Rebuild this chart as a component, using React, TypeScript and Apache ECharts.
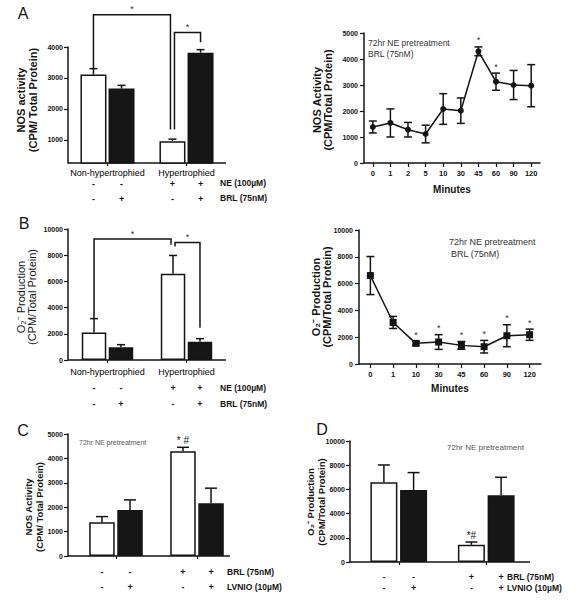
import React, { useEffect, useRef } from 'react';
import * as echarts from 'echarts';

const FONT = '"Liberation Sans", Arial, Helvetica, sans-serif';
const INK = '#141414';

// ---------------- data ----------------
// Panel A (left): NOS activity, bar chart
const groupsAB = ['Non-hypertrophied', 'Hypertrophied'];
const aNosWhite = [3110, 955];
const aNosWhiteErr = [190, 65];
const aNosBlack = [2660, 3815];
const aNosBlackErr = [100, 100];
const aSignsNE = ['-', '-', '+', '+'];
const aSignsBRL = ['-', '+', '-', '+'];
// brackets: [fromCat, fromSide, toCat, toSide, level, fromEnd, toEnd]
const aBrackets = [
  [0, -1, 1, -1, 5045, 3300, 1333],
  [1, -1, 1, 1, 4470, 1333, 4150],
];

// Panel A (right): NOS activity time course
const aMinutes = ['0', '1', '2', '5', '10', '30', '45', '60', '90', '120'];
const aNosTime = [1385, 1540, 1280, 1115, 2077, 2013, 4295, 3128, 3000, 2974];
const aNosTimeErr = [230, 540, 280, 340, 590, 490, 170, 330, 560, 810];
const aNosTimeSig = ['', '', '', '', '', '', '*', '*', '', ''];

// Panel B (left): O2- production, bar chart
const bO2White = [2090, 6580];
const bO2WhiteErr = [1070, 1400];
const bO2Black = [970, 1400];
const bO2BlackErr = [200, 230];
const bBrackets = [
  [0, -1, 1, -1, 9235, 3163, 8800],
  [1, -1, 1, 1, 8975, 8670, 2470],
];

// Panel B (right): O2- production time course
const bMinutes = ['0', '1', '10', '30', '45', '60', '90', '120'];
const bO2Time = [6600, 3100, 1540, 1640, 1390, 1290, 2110, 2185];
const bO2TimeErr = [1420, 450, 150, 550, 290, 470, 820, 420];
const bO2TimeSig = ['', '', '*', '*', '*', '*', '*', '*'];

// Panel C: NOS activity with LVNIO
const cdGroups = ['Vehicle', 'BRL (75nM)'];
const cNosWhite = [1385, 4290];
const cNosWhiteErr = [230, 165];
const cNosBlack = [1890, 2165];
const cNosBlackErr = [410, 615];
const cWhiteSig = ['', '* #'];
const cdSignsBRL = ['-', '-', '+', '+'];
const cdSignsLVNIO = ['-', '+', '-', '+'];

// Panel D: O2- production with LVNIO
const dO2White = [6590, 1420];
const dO2WhiteErr = [1430, 230];
const dO2Black = [5960, 5520];
const dO2BlackErr = [1430, 1480];
const dWhiteSig = ['', '*#'];

// ---------------- helpers ----------------
const txt = (
  text: string, x: number, y: number, size: number, weight: string,
  fill: string, align: string, valign: string, rotation = 0,
) => ({
  type: 'text', x, y, rotation, silent: true,
  style: {
    text, fill, fontSize: size, fontWeight: weight, fontFamily: FONT,
    align, verticalAlign: valign, textAlign: align, textVerticalAlign: valign,
  },
});
const seg = (x1: number, y1: number, x2: number, y2: number, w = 1.5) => ({
  type: 'line', shape: { x1, y1, x2, y2 }, style: { stroke: INK, lineWidth: w },
});

function buildOption() {
  const grid: any[] = [];
  const xAxis: any[] = [];
  const yAxis: any[] = [];
  const series: any[] = [];
  const graphic: any[] = [];

  const valueAxis = (gi: number, min: number, max: number, interval: number | null,
    ticks: number[] | null, offset: number, margin: number) => ({
    type: 'value', gridIndex: gi, min, max, offset,
    ...(interval ? { interval } : {}),
    axisLine: { show: true, lineStyle: { color: INK, width: 1.5 } },
    axisTick: {
      show: true, length: 4, lineStyle: { color: INK, width: 1.2 },
      ...(ticks ? { customValues: ticks } : {}),
    },
    axisLabel: {
      color: INK, fontSize: 7, fontWeight: 'bold', fontFamily: FONT, margin,
      formatter: (v: number) => String(v),
      ...(ticks ? { customValues: ticks } : {}),
    },
    splitLine: { show: false },
  });

  const addBarPanel = (p: any) => {
    const gi = grid.length;
    grid.push({ left: p.left, top: p.top, width: p.width, height: p.height, containLabel: false, outerBoundsMode: 'none' });
    xAxis.push({
      type: 'category', gridIndex: gi, data: p.cats, boundaryGap: true,
      axisLine: { show: false },
      axisTick: { show: true, alignWithLabel: true, length: 3, lineStyle: { color: INK, width: 1.2 } },
      axisLabel: { show: p.showCats, color: '#000', fontSize: 9, fontFamily: FONT, margin: p.catMargin, interval: 0 },
    });
    yAxis.push(valueAxis(gi, p.yMin, p.yMax, p.yInterval, p.yTicks, p.left - p.axisX0, 5));
    const bottom = p.top + p.height;
    graphic.push(seg(p.axisX0, bottom, p.axisX1, bottom));
    const n = p.cats.length;
    const half = (p.bw * (1 + p.gap)) / 2;
    series.push({
      type: 'bar', xAxisIndex: gi, yAxisIndex: gi, data: p.white, barWidth: p.bw,
      barGap: Math.round(p.gap * 100) + '%', z: 2,
      itemStyle: { color: '#ffffff', borderColor: INK, borderWidth: 1.5 },
    });
    series.push({
      type: 'bar', xAxisIndex: gi, yAxisIndex: gi, data: p.black, barWidth: p.bw, z: 2,
      itemStyle: { color: '#161616', borderColor: INK, borderWidth: 1.5 },
    });
    const errData = [
      ...p.white.map((v: number, i: number) => [i, v, p.whiteErr[i]]),
      ...p.black.map((v: number, i: number) => [i, v, p.blackErr[i]]),
    ];
    const labels = [...p.whiteLabels, ...p.cats.map(() => '')];
    series.push({
      type: 'custom', xAxisIndex: gi, yAxisIndex: gi, clip: false, silent: true, z: 5,
      itemStyle: { color: INK },
      data: errData, encode: { x: 0, y: 1 },
      renderItem: (params: any, api: any) => {
        const di = params.dataIndex;
        const side = di < n ? 0 : 1;
        const cat = api.value(0);
        const mean = api.value(1);
        const err = api.value(2);
        const b = api.coord([cat, mean]);
        const t = api.coord([cat, mean + err]);
        const base = api.coord([cat, p.yMin]);
        const x = b[0] + (side === 0 ? -half : half);
        const ch: any[] = [
          seg(x, b[1], x, t[1]),
          seg(x - p.cap / 2, t[1], x + p.cap / 2, t[1]),
        ];
        if (labels[di]) ch.push(txt(labels[di], x, t[1] - 2, 10, 'normal', INK, 'center', 'bottom'));
        const si = cat * 2 + side;
        ch.push(txt(p.signs1[si], x, base[1] + p.signRows[0], 9, 'bold', INK, 'center', 'middle'));
        ch.push(txt(p.signs2[si], x, base[1] + p.signRows[1], 9, 'bold', INK, 'center', 'middle'));
        return { type: 'group', children: ch };
      },
    });
    if (p.brackets) {
      const brs = p.brackets;
      series.push({
        type: 'custom', xAxisIndex: gi, yAxisIndex: gi, clip: false, silent: true, z: 5,
        itemStyle: { color: INK },
        data: brs, encode: { x: 0, y: 4 },
        renderItem: (params: any, api: any) => {
          const k = params.dataIndex;
          const br = brs[k];
          const xOf = (cat: number, side: number) => api.coord([cat, p.yMin])[0] + side * half;
          let x1 = xOf(br[0], br[1]);
          let x2 = xOf(br[2], br[3]);
          brs.forEach((o: number[], j: number) => {
            if (j === k) return;
            if (o[0] === br[2] && o[1] === br[3]) x2 -= 2;
            if (o[2] === br[0] && o[3] === br[1]) x1 += 2;
          });
          const yL = api.coord([0, br[4]])[1];
          const y1 = api.coord([0, br[5]])[1];
          const y2 = api.coord([0, br[6]])[1];
          return {
            type: 'group',
            children: [
              { type: 'polyline', shape: { points: [[x1, y1], [x1, yL], [x2, yL], [x2, y2]] }, style: { stroke: INK, lineWidth: 1.5, fill: null } },
              txt('*', (x1 + x2) / 2, yL - 1, 9, 'normal', '#333', 'center', 'bottom'),
            ],
          };
        },
      });
    }
  };

  const addLinePanel = (p: any) => {
    const gi = grid.length;
    grid.push({ left: p.left, top: p.top, width: p.width, height: p.height, containLabel: false, outerBoundsMode: 'none' });
    xAxis.push({
      type: 'category', gridIndex: gi, data: p.cats, boundaryGap: true,
      axisLine: { show: true, lineStyle: { color: INK, width: 1.5 } },
      axisTick: { show: true, alignWithLabel: true, length: 4, lineStyle: { color: INK, width: 1.2 } },
      axisLabel: { color: INK, fontSize: 7.5, fontWeight: 'bold', fontFamily: FONT, margin: 6, interval: 0 },
      name: 'Minutes', nameLocation: 'middle', nameGap: p.nameGap,
      nameTextStyle: { color: INK, fontSize: 10, fontWeight: 'bold', fontFamily: FONT },
    });
    yAxis.push(valueAxis(gi, p.yMin, p.yMax, p.yInterval, null, 0, 6));
    const errData = p.values.map((v: number, i: number) => [i, v, p.errs[i]]);
    series.push({
      type: 'custom', xAxisIndex: gi, yAxisIndex: gi, clip: false, silent: true, z: 3,
      itemStyle: { color: INK },
      data: errData, encode: { x: 0, y: 1 },
      renderItem: (params: any, api: any) => {
        const i = api.value(0);
        const m = api.value(1);
        const e = api.value(2);
        const top = api.coord([i, m + e]);
        const bot = api.coord([i, m - e]);
        const x = top[0];
        const w = p.cap / 2;
        const ch: any[] = [
          seg(x, top[1], x, bot[1]),
          seg(x - w, top[1], x + w, top[1]),
          seg(x - w, bot[1], x + w, bot[1]),
        ];
        const s = p.sig[params.dataIndex];
        if (s) ch.push(txt(s, x, top[1] - 2, 9, 'normal', '#333', 'center', 'bottom'));
        return { type: 'group', children: ch };
      },
    });
    series.push({
      type: 'line', xAxisIndex: gi, yAxisIndex: gi, data: p.values, z: 4,
      symbol: p.symbol, symbolSize: p.symbolSize,
      lineStyle: { color: INK, width: 1.5 }, itemStyle: { color: INK },
    });
  };

  // ---- A left ----
  addBarPanel({
    left: 68, top: 47, width: 158, height: 116, axisX0: 68, axisX1: 226,
    yMin: 250, yMax: 4000, yInterval: null, yTicks: [1000, 2000, 3000, 4000],
    cats: groupsAB, showCats: true, catMargin: 5, bw: 26, gap: 0.08, cap: 8,
    white: aNosWhite, whiteErr: aNosWhiteErr, black: aNosBlack, blackErr: aNosBlackErr,
    whiteLabels: ['', ''], signs1: aSignsNE, signs2: aSignsBRL, signRows: [20.5, 35.5],
    brackets: aBrackets,
  });
  // ---- A right ----
  addLinePanel({
    left: 364, top: 33, width: 176, height: 130, yMin: 0, yMax: 5000, yInterval: 1000,
    cats: aMinutes, values: aNosTime, errs: aNosTimeErr, sig: aNosTimeSig,
    symbol: 'circle', symbolSize: 6, cap: 8, nameGap: 21,
  });
  // ---- B left ----
  addBarPanel({
    left: 68, top: 229, width: 158, height: 131, axisX0: 68, axisX1: 226,
    yMin: 0, yMax: 10000, yInterval: 2000, yTicks: null,
    cats: groupsAB, showCats: true, catMargin: 7, bw: 24.5, gap: 0.1, cap: 8,
    white: bO2White, whiteErr: bO2WhiteErr, black: bO2Black, blackErr: bO2BlackErr,
    whiteLabels: ['', ''], signs1: aSignsNE, signs2: aSignsBRL, signRows: [28, 44],
    brackets: bBrackets,
  });
  // ---- B right ----
  addLinePanel({
    left: 359, top: 230, width: 182, height: 134, yMin: 0, yMax: 10000, yInterval: 2000,
    cats: bMinutes, values: bO2Time, errs: bO2TimeErr, sig: bO2TimeSig,
    symbol: 'rect', symbolSize: 7, cap: 8, nameGap: 19,
  });
  // ---- C ----
  addBarPanel({
    left: 75.5, top: 434, width: 162, height: 122, axisX0: 68, axisX1: 230,
    yMin: 0, yMax: 5000, yInterval: 1000, yTicks: null,
    cats: cdGroups, showCats: false, catMargin: 5, bw: 25.5, gap: 0.1, cap: 12,
    white: cNosWhite, whiteErr: cNosWhiteErr, black: cNosBlack, blackErr: cNosBlackErr,
    whiteLabels: cWhiteSig, signs1: cdSignsBRL, signs2: cdSignsLVNIO, signRows: [16, 31],
    brackets: null,
  });
  // ---- D ----
  addBarPanel({
    left: 355, top: 441, width: 175, height: 121, axisX0: 350, axisX1: 530,
    yMin: 0, yMax: 10000, yInterval: 2000, yTicks: null,
    cats: cdGroups, showCats: false, catMargin: 5, bw: 27, gap: 0.1, cap: 12,
    white: dO2White, whiteErr: dO2WhiteErr, black: dO2Black, blackErr: dO2BlackErr,
    whiteLabels: dWhiteSig, signs1: cdSignsBRL, signs2: cdSignsLVNIO, signRows: [15, 26],
    brackets: null,
  });

  // ---- static texts ----
  const R = Math.PI / 2;
  graphic.push(
    txt('A', 23, 13, 16, 'normal', INK, 'center', 'middle'),
    txt('B', 24, 223, 16, 'normal', INK, 'center', 'middle'),
    txt('C', 23, 430, 16, 'normal', INK, 'center', 'middle'),
    txt('D', 322, 429, 16, 'normal', INK, 'center', 'middle'),

    txt('NOS activity', 21, 100, 11, 'bold', INK, 'center', 'middle', R),
    txt('(CPM/ Total Protein)', 33, 100, 11, 'bold', INK, 'center', 'middle', R),
    txt('NOS Activity', 317, 100, 11, 'bold', INK, 'center', 'middle', R),
    txt('(CPM/Total Protein)', 327.5, 100, 11, 'bold', INK, 'center', 'middle', R),
    txt('O₂⁻ Production', 21, 297, 11, 'normal', INK, 'center', 'middle', R),
    txt('(CPM/Total Protein)', 32, 297, 11, 'normal', INK, 'center', 'middle', R),
    txt('O₂⁻ Production', 316, 297, 11, 'bold', INK, 'center', 'middle', R),
    txt('(CPM/Total Protein)', 327, 297, 11, 'bold', INK, 'center', 'middle', R),
    txt('NOS Activity', 28, 507, 9.5, 'bold', INK, 'center', 'middle', R),
    txt('(CPM/ Total Protein)', 39, 507, 9.5, 'bold', INK, 'center', 'middle', R),
    txt('O₂⁻ Production', 310, 502, 9.5, 'bold', INK, 'center', 'middle', R),
    txt('(CPM/Total Protein)', 321, 502, 9.5, 'bold', INK, 'center', 'middle', R),

    txt('72hr NE pretreatment', 368, 43, 8.5, 'normal', '#333', 'left', 'middle'),
    txt('BRL (75nM)', 368, 54, 8.5, 'normal', '#333', 'left', 'middle'),
    txt('72hr NE pretreatment', 449, 242, 9, 'normal', '#333', 'left', 'middle'),
    txt('BRL (75nM)', 451, 254, 9, 'normal', '#333', 'left', 'middle'),
    txt('72hr NE pretreatment', 79, 442, 7, 'normal', '#555', 'left', 'middle'),
    txt('72hr NE pretreatment', 447, 447, 8, 'normal', '#555', 'left', 'middle'),

    txt('NE (100µM)', 220, 183, 8.5, 'bold', INK, 'left', 'middle'),
    txt('BRL (75nM)', 220, 198, 8.5, 'bold', INK, 'left', 'middle'),
    txt('NE (100µM)', 220, 388, 8.5, 'bold', INK, 'left', 'middle'),
    txt('BRL (75nM)', 220, 404, 8.5, 'bold', INK, 'left', 'middle'),
    txt('BRL (75nM)', 227, 572, 8.5, 'bold', INK, 'left', 'middle'),
    txt('LVNIO (10µM)', 227, 587, 8.5, 'bold', INK, 'left', 'middle'),
    txt('BRL (75nM)', 507, 577, 8.5, 'bold', INK, 'left', 'middle'),
    txt('LVNIO (10µM)', 507, 588, 8.5, 'bold', INK, 'left', 'middle'),
  );

  return {
    animation: false,
    backgroundColor: '#ffffff',
    textStyle: { fontFamily: FONT },
    grid, xAxis, yAxis, series, graphic,
  };
}

export default function App() {
  const ref = useRef<HTMLDivElement>(null);
  useEffect(() => {
    const chart = echarts.init(ref.current as HTMLDivElement, null, { renderer: 'svg' });
    chart.setOption(buildOption() as any);
    return () => chart.dispose();
  }, []);
  return (
    <div
      ref={ref}
      style={{ position: 'fixed', left: 0, top: 0, width: 578, height: 600, background: '#fff' }}
    />
  );
}
